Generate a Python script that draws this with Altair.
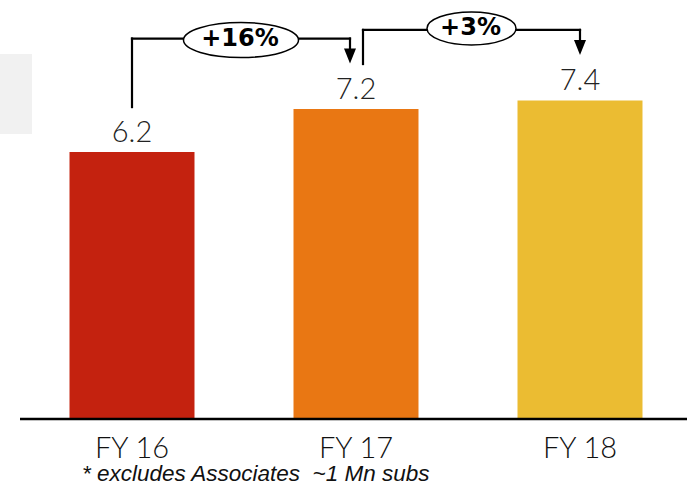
import altair as alt
import pandas as pd

# ---- data -------------------------------------------------------------
categories = ["FY 16", "FY 17", "FY 18"]
values = [6.2, 7.2, 7.4]
bar_colors = ["#C4220F", "#E97713", "#EBBC32"]
growth_labels = ["+16%", "+3%"]
footnote = "* excludes Associates\u00a0\u00a0~1 Mn subs"

bars_df = pd.DataFrame({"cat": categories, "value": values})
growth_df = pd.DataFrame({
    "src": categories[:-1],
    "dst": categories[1:],
    "src_val": values[:-1],
    "dst_val": values[1:],
    "label": growth_labels,
})

# ---- shared scales / axes ----------------------------------------------
STEP = 224
x_scale = alt.Scale(domain=categories, range=[0, 712],
                    paddingInner=0.442, paddingOuter=0.3103)
y_scale = alt.Scale(domain=[0, 9.733], nice=False, zero=True)

x_axis = alt.Axis(
    title=None, domain=False, ticks=False, tickSize=0, grid=False,
    labelAngle=0, labelPadding=38, labelBaseline="alphabetic",
    labelFont="Lato", labelFontWeight=300, labelFontSize=29, labelColor="#111111",
)


def X(field):
    return alt.X(field, type="nominal", scale=x_scale, axis=x_axis, sort=categories)


def Y(field):
    return alt.Y(field, type="quantitative", scale=y_scale, axis=None)


# ---- decorations -------------------------------------------------------
one_row = pd.DataFrame({"k": [0]})

side_box = alt.Chart(one_row).mark_rect(color="#F1F1F1").encode(
    x=alt.value(0), x2=alt.value(32), y=alt.value(54), y2=alt.value(134)
)

baseline = alt.Chart(pd.DataFrame({"base": [0]})).mark_rule(
    color="black", strokeWidth=2.4
).encode(x=alt.value(20), x2=alt.value(687), y=Y("base"))

note = alt.Chart(pd.DataFrame({"note": [footnote]})).mark_text(
    font="Liberation Sans", fontStyle="italic", fontSize=22.5, color="#111111",
    align="left", baseline="alphabetic",
).encode(x=alt.value(82), y=alt.value(481), text="note:N")

# ---- bars and value labels ---------------------------------------------
bars = alt.Chart(bars_df).mark_bar().encode(
    x=X("cat"),
    y=Y("value"),
    color=alt.Color("cat:N", scale=alt.Scale(domain=categories, range=bar_colors), legend=None),
)

value_labels = alt.Chart(bars_df).mark_text(
    font="Lato", fontWeight=300, fontSize=29, color="#222222",
    baseline="alphabetic", dy=-10,
).encode(x=X("cat"), y=Y("value"), text=alt.Text("value:Q", format=".1f"))


# ---- growth brackets ---------------------------------------------------
def ellipse_path(r):
    k = 0.5523
    return (f"M -1 0 C -1 {-r*k:.4f} {-k} {-r:.4f} 0 {-r:.4f} "
            f"C {k} {-r:.4f} 1 {-r*k:.4f} 1 0 "
            f"C 1 {r*k:.4f} {k} {r:.4f} 0 {r:.4f} "
            f"C {-k} {r:.4f} -1 {r*k:.4f} -1 0 Z")


ARROW = "M -0.8 -1 L 0.8 -1 L 0 1 Z"
LEVEL = -70.5          # bracket height above the destination bar top
START = -45            # bracket start above the source bar top
TIP = -45.5            # arrow tip above the destination bar top


def bracket(i, src_dx, dst_dx, ell_w, ell_h, ell_dy, text_dy):
    df = growth_df.iloc[[i]]
    base = alt.Chart(df)
    mid = src_dx + (STEP + dst_dx - src_dx) / 2
    rule = dict(color="black", strokeWidth=2.2, strokeCap="square")
    up = base.mark_rule(xOffset=src_dx, yOffset=START, y2Offset=LEVEL, **rule).encode(
        x=X("src"), y=Y("src_val"), y2=alt.Y2("dst_val"))
    across = base.mark_rule(xOffset=src_dx, x2Offset=dst_dx, yOffset=LEVEL, **rule).encode(
        x=X("src"), x2=alt.X2("dst"), y=Y("dst_val"))
    down = base.mark_rule(xOffset=dst_dx, yOffset=LEVEL, y2Offset=TIP - 13, **rule).encode(
        x=X("dst"), y=Y("dst_val"), y2=alt.Y2("dst_val"))
    head = base.mark_point(shape=ARROW, size=225, filled=True, color="black", opacity=1,
                           xOffset=dst_dx, yOffset=TIP - 7.5).encode(
        x=X("dst"), y=Y("dst_val"))
    ell = base.mark_point(shape=ellipse_path(ell_h / ell_w), size=ell_w ** 2, filled=True,
                          fill="white", stroke="black", strokeWidth=1.5, opacity=1,
                          xOffset=mid, yOffset=LEVEL + ell_dy).encode(
        x=X("src"), y=Y("dst_val"))
    txt = base.mark_text(font="DejaVu Sans", fontWeight="bold", fontSize=24, color="black",
                         baseline="middle", align="center", dx=mid - 1, dy=LEVEL + text_dy).encode(
        x=X("src"), y=Y("dst_val"), text="label:N")
    return [up, across, down, head, ell, txt]


layers = [side_box, bars, baseline, value_labels, note]
layers += bracket(0, 0, -6, 115, 35, 1.5, 0.5)
layers += bracket(1, 7, 0, 89, 33, -1.5, -1.5)

chart = alt.layer(*layers).properties(
    width=687, height=419,
    background="white",
    autosize=alt.AutoSizeParams(type="none"),
    padding={"left": 0, "top": 0, "right": 0, "bottom": 69},
).configure_view(stroke=None)

chart.save("out.html", embed_options={"renderer": "svg", "actions": False})
